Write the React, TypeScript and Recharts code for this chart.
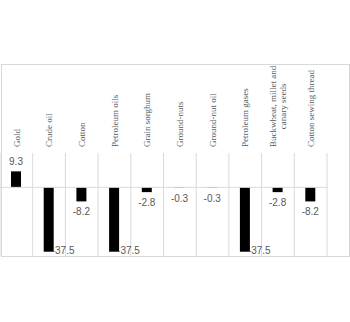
import React from "react";
import { BarChart, Bar, XAxis, YAxis, CartesianGrid, ReferenceLine, LabelList } from "recharts";

const categories = [
  "Gold",
  "Crude oil",
  "Cotton",
  "Petroleum oils",
  "Grain sorghum",
  "Ground-nuts",
  "Ground-nut oil",
  "Petroleum gases",
  "Buckwheat, millet and\ncanary seeds",
  "Cotton sewing thread",
];
const values = [9.3, -37.5, -8.2, -37.5, -2.8, -0.3, -0.3, -37.5, -2.8, -8.2];
const yDomain = [-40, 20];

const data = categories.map((name, i) => ({ name, value: values[i] }));

const CHART_W = 350;
const CHART_H = 193;
const MARGIN = { top: 0, right: 23, bottom: 1, left: 0 };
const PLOT_BOTTOM = CHART_H - MARGIN.bottom;
const GRID = "#d9d9d9";
const CAT_FONT = "'Liberation Serif', 'Times New Roman', serif";
const VAL_FONT = "'Liberation Sans', Arial, sans-serif";

let ctx: CanvasRenderingContext2D | null = null;
function measure(text: string, font: string): number {
  if (!ctx) {
    const c = document.createElement("canvas");
    ctx = c.getContext("2d");
  }
  if (!ctx) return text.length * 5;
  ctx.font = font;
  return ctx.measureText(text).width;
}

const CategoryTick = (props: any) => {
  const { x, y, payload } = props;
  const lines: string[] = String(payload.value).split("\n");
  const fs = 9;
  const widths = lines.map((l) => measure(l, `${fs}px ${CAT_FONT}`));
  const maxW = Math.max(...widths);
  const cy = y - maxW / 2;
  const lh = 9.5;
  const n = lines.length;
  return (
    <g>
      {lines.map((l, i) => {
        const lx = x + (i - (n - 1) / 2) * lh;
        return (
          <text
            key={i}
            transform={`translate(${lx},${cy}) rotate(-90)`}
            x={0}
            y={0}
            dy="0.35em"
            textAnchor="middle"
            fontFamily={CAT_FONT}
            fontSize={fs}
            fill="#595959"
          >
            {l}
          </text>
        );
      })}
    </g>
  );
};

const ValueLabel = (props: any) => {
  const { x, y, width, height, value } = props;
  const top = Math.min(y, y + height);
  const bottom = Math.max(y, y + height);
  const cx = x + width / 2;
  const common = { fontFamily: VAL_FONT, fontSize: 10, fill: "#595959" };
  if (value >= 0) {
    return (
      <text x={cx} y={top - 6} textAnchor="middle" {...common}>
        {value}
      </text>
    );
  }
  if (bottom + 14 > PLOT_BOTTOM) {
    return (
      <text x={x + width - 2} y={PLOT_BOTTOM - 2} textAnchor="start" {...common}>
        {value}
      </text>
    );
  }
  return (
    <text x={cx} y={bottom + 14} textAnchor="middle" {...common}>
      {value}
    </text>
  );
};

export default function App() {
  return (
    <div style={{ position: "absolute", left: 0, top: 0, width: 350, height: 322, background: "#fff" }}>
      <div style={{ position: "absolute", left: 0, top: 64 }}>
        <BarChart width={CHART_W} height={CHART_H} data={data} margin={MARGIN} barSize={10}>
          <CartesianGrid
            horizontal={false}
            stroke={GRID}
            verticalCoordinatesGenerator={(p: any) => {
              const o = p.offset;
              return categories.map((_, i) => o.left + (i * o.width) / categories.length).concat([o.left + o.width]);
            }}
          />
          <XAxis
            dataKey="name"
            orientation="top"
            height={89}
            axisLine={false}
            tickLine={false}
            tickSize={0}
            tickMargin={6}
            interval={0}
            tick={<CategoryTick />}
          />
          <YAxis hide domain={yDomain} type="number" />
          <ReferenceLine y={0} stroke={GRID} />
          <Bar dataKey="value" fill="#000" isAnimationActive={false}>
            <LabelList dataKey="value" content={<ValueLabel />} />
          </Bar>
        </BarChart>
      </div>
      <div
        style={{
          position: "absolute",
          left: 1,
          top: 64,
          width: 349,
          height: 193,
          border: `1px solid ${GRID}`,
          boxSizing: "border-box",
          pointerEvents: "none",
        }}
      />
    </div>
  );
}
